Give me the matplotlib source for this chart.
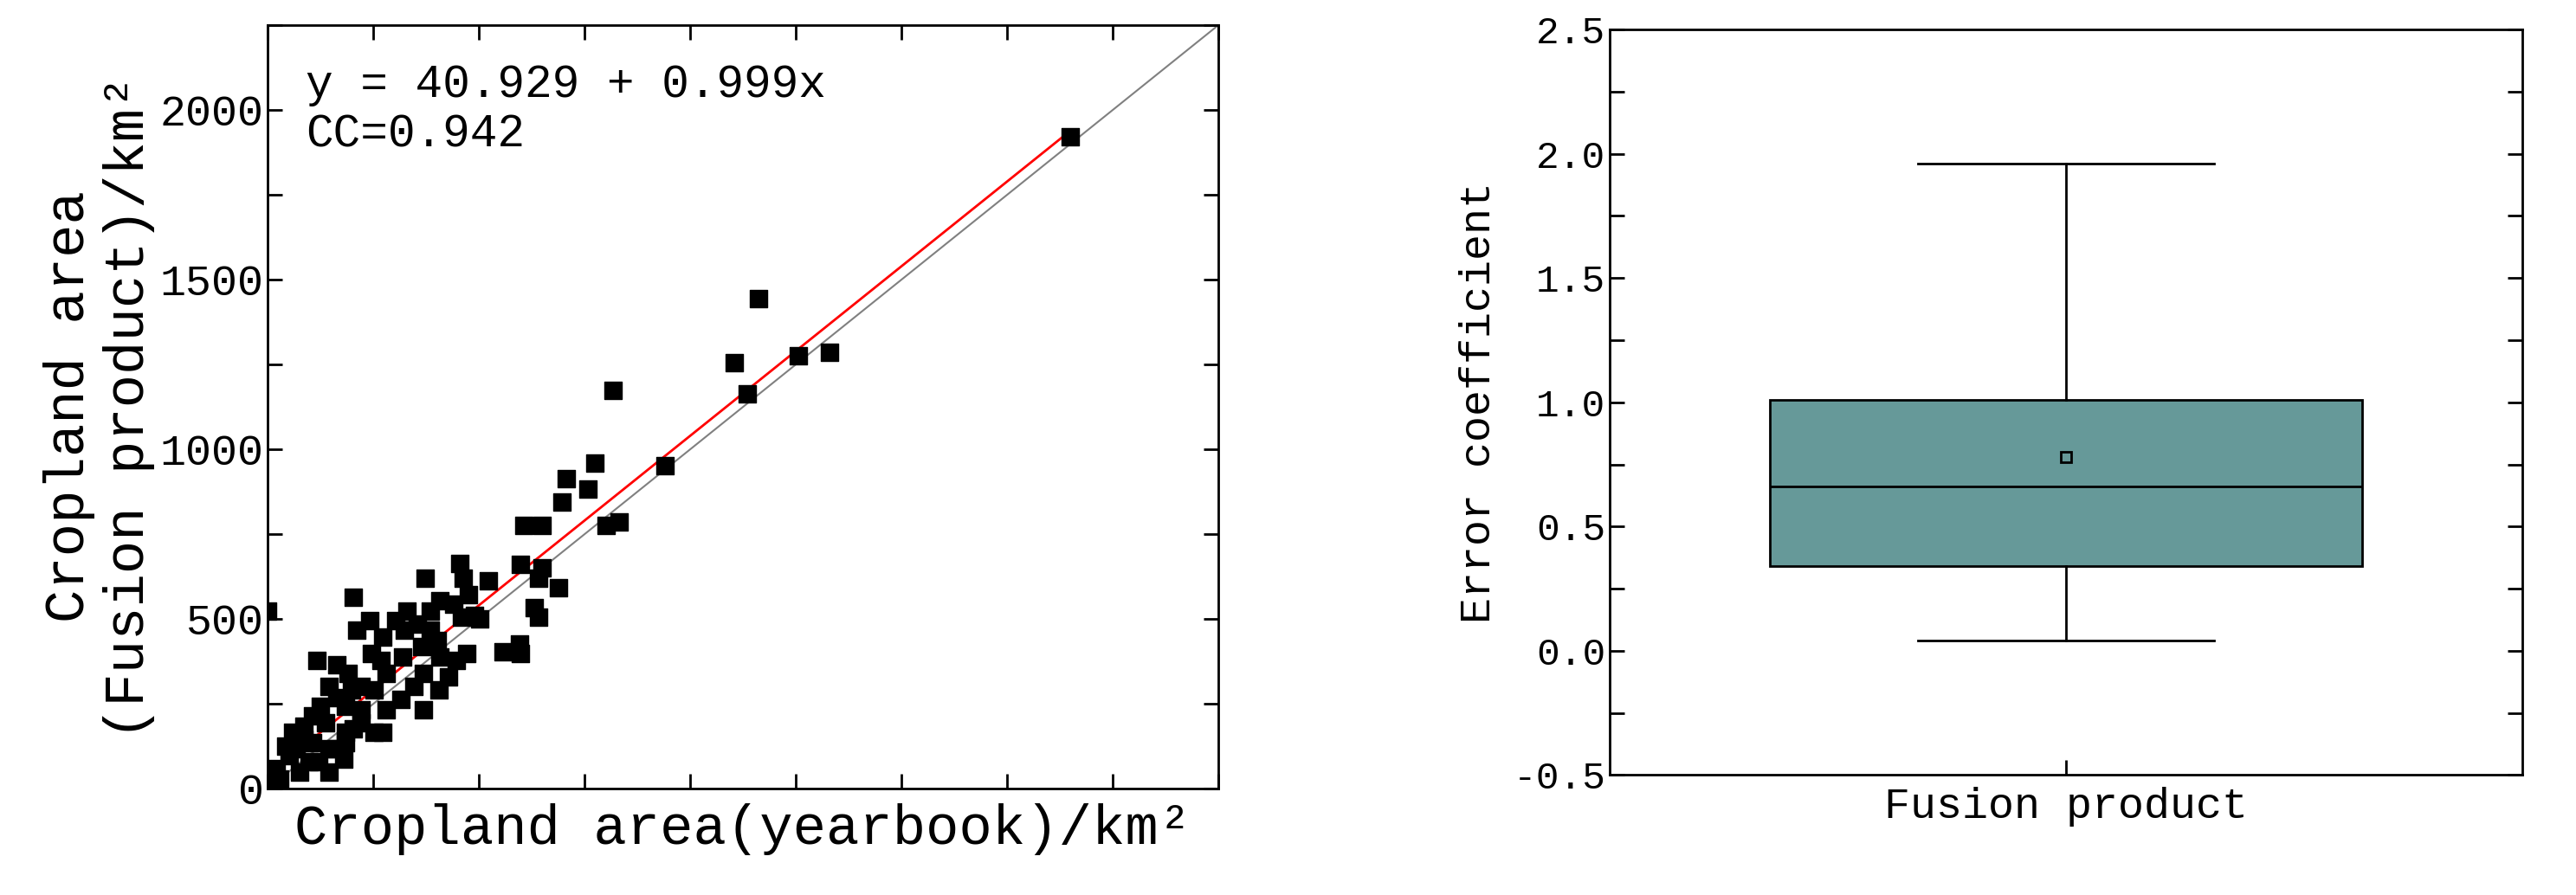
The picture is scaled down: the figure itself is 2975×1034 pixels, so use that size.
import matplotlib
matplotlib.use("Agg")
import matplotlib.pyplot as plt
import numpy as np
from matplotlib.ticker import MultipleLocator

yearbook = [0,1900,1162,1104,1135,1255,1329,816,940,773,758,707,696,800,832,649,606,598,649,641,688,521,630,641,595,598,556,455,462,474,373,408,439,458,490,501,330,303,322,385,408,447,470,354,365,400,272,268,241,202,210,117,163,245,280,319,369,404,369,280,252,221,190,198,221,252,272,183,163,144,124,105,136,183,221,202,85,105,144,179,120,97,66,43,50,74,19,27,12,58,144,163,183,315,346,385,427,85]
fusion = [524,1920,1445,1256,1164,1275,1285,1174,951,960,883,912,844,776,786,776,776,660,650,621,592,611,534,504,427,398,403,664,620,572,621,553,543,504,509,500,524,495,466,466,388,378,398,485,417,437,446,378,495,563,466,378,364,398,340,388,340,291,233,233,291,300,340,291,233,165,165,243,267,300,243,213,194,165,194,175,184,136,116,87,78,78,116,126,97,48,58,29,19,165,48,116,136,262,301,524,330,145]
intercept, slope = 40.929, 0.999
cc = 0.942

err_q1, err_med, err_q3 = 0.34, 0.66, 1.01
err_lo, err_hi, err_mean = 0.04, 1.96, 0.78

plt.rcParams['font.family'] = ['Liberation Mono', 'DejaVu Sans Mono']

fig = plt.figure(figsize=(29.75, 10.34), dpi=100)
ax = fig.add_axes([0.104, 0.119, 0.369, 0.853])
ax.plot([0, 2250], [0, 2250], color='gray', lw=1.5)
xs = np.array([0, max(yearbook)])
ax.plot(xs, intercept + slope * xs, color='red', lw=2)
ax.scatter(yearbook, fusion, marker='s', s=200, color='black', zorder=3)
ax.set_xlim(0, 2250); ax.set_ylim(0, 2250)
ax.xaxis.set_major_locator(MultipleLocator(250))
ax.yaxis.set_major_locator(MultipleLocator(500))
ax.yaxis.set_minor_locator(MultipleLocator(250))
ax.tick_params(which='both', direction='in', top=True, right=True, labelsize=36, length=12, width=2)
ax.tick_params(axis='x', labelbottom=False)
ax.set_xlabel("Cropland area(yearbook)/km²", fontsize=46, labelpad=12)
ax.set_ylabel("Cropland area\n(Fusion product)/km²", fontsize=46)
ax.text(0.04, 0.95, f"y = {intercept} + {slope}x\nCC={cc}", transform=ax.transAxes, fontsize=38, va='top')
for s in ax.spines.values(): s.set_linewidth(2)

ax2 = fig.add_axes([0.625, 0.134, 0.354, 0.833])
stats = [dict(q1=err_q1, med=err_med, q3=err_q3, whislo=err_lo, whishi=err_hi, mean=err_mean, label="Fusion product", fliers=[])]
ax2.bxp(stats, widths=0.65, showmeans=True, patch_artist=True,
        boxprops=dict(facecolor='#669999', edgecolor='black', lw=2),
        medianprops=dict(color='black', lw=2), whiskerprops=dict(lw=2), capprops=dict(lw=2),
        meanprops=dict(marker='s', markerfacecolor='#669999', markeredgecolor='black', markersize=9, markeredgewidth=2))
ax2.set_xlim(0.5, 1.5); ax2.set_ylim(-0.5, 2.5)
ax2.yaxis.set_major_locator(MultipleLocator(0.5))
ax2.yaxis.set_minor_locator(MultipleLocator(0.25))
ax2.tick_params(which='both', direction='in', right=True, labelsize=32, length=12, width=2)
ax2.tick_params(axis='x', length=12, labelsize=36, pad=10)
ax2.yaxis.set_major_formatter(matplotlib.ticker.FormatStrFormatter('%.1f'))
ax2.set_ylabel("Error coefficient", fontsize=36, labelpad=12)
for s in ax2.spines.values(): s.set_linewidth(2)

fig.savefig("out.png", dpi=100)
